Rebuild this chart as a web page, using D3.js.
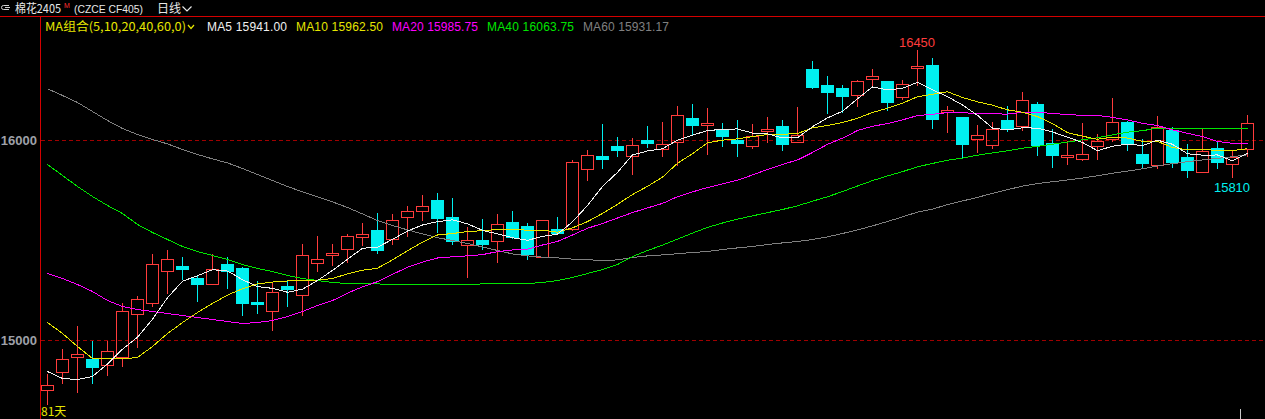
<!DOCTYPE html>
<html><head><meta charset="utf-8">
<script src="https://cdn.jsdelivr.net/npm/d3@7"></script>
<style>
html,body{margin:0;padding:0;background:#000;overflow:hidden}
svg{display:block}
</style></head><body>
<svg id="c" width="1265" height="419"></svg>
<script>
// ---- data ----
const opens  = [14748,14838,14913,14903,14876,14916,15128,15186,15346,15370,
                15310,15281,15380,15358,15190,15143,15270,15226,15386,15426,
                15453,15516,15550,15506,15613,15643,15700,15615,15476,15500,
                15493,15590,15570,15416,15553,15553,15853,15920,15970,15918,
                16000,15956,15988,16110,16073,16056,16000,15968,16043,16070,
                15988,16355,16275,16260,16226,16306,16295,16216,16362,16375,
                16140,16115,16003,15976,16100,16068,16180,15983,15916,15906,
                15971,16003,16090,15930,15875,16050,15915,15841,15958,15878,
                15953];
const highs  = [14830,14955,15068,14993,14995,15183,15220,15430,15450,15413,
                15320,15430,15413,15363,15295,15283,15300,15480,15520,15480,
                15530,15583,15635,15630,15670,15725,15735,15710,15565,15603,
                15630,15645,15583,15598,15615,15900,15950,16080,16015,16010,
                16070,16090,16171,16180,16160,16085,16098,16080,16113,16100,
                16165,16395,16320,16275,16300,16355,16295,16300,16450,16410,
                16170,16115,16075,16091,16168,16240,16190,16055,15996,16083,
                16028,16210,16096,16003,16120,16063,15980,16055,15996,15946,
                16125];
const lows   = [14675,14781,14736,14781,14821,14866,14961,15166,15228,15300,
                15191,15280,15253,15121,15131,15046,15166,15121,15341,15370,
                15383,15470,15431,15476,15516,15595,15535,15476,15311,15451,
                15386,15503,15401,15416,15536,15543,15796,15856,15916,15826,
                15958,15916,15871,16026,15926,15966,15916,15953,15986,15946,
                15988,16256,16131,16136,16163,16271,16146,16200,16271,16056,
                16036,15906,15936,15953,16041,16046,15920,15861,15876,15896,
                15901,15991,15946,15856,15856,15861,15811,15836,15856,15810,
                15913];
const closes = [14773,14903,14928,14866,14943,15143,15203,15378,15403,15355,
                15280,15353,15346,15186,15181,15238,15255,15423,15403,15433,
                15518,15528,15451,15598,15643,15668,15611,15496,15498,15481,
                15578,15516,15431,15598,15536,15888,15923,15906,15950,15973,
                15986,15978,16123,16076,16083,16021,15986,16021,16055,15981,
                16023,16266,16241,16221,16293,16318,16191,16280,16372,16106,
                16148,15981,16023,16053,16061,16198,15975,15926,15923,15928,
                15993,16088,15978,15886,16063,15890,15851,15943,15891,15916,
                16083];

// moving-average values before a full window exists
const ma5Head  = [14845,14810,14805,14820];
const ma10Head = [15090,15035,14970,14910,14908,14908,14915,14970,15035];
const ma20Head = [15335,15310,15280,15245,15200,15170,15155,15145,15135,15125,
                  15115,15105,15095,15085,15090,15100,15120,15145,15175];
const ma40Head = [15880,15825,15770,15720,15675,15635,15580,15540,15505,15470,
                  15445,15425,15405,15380,15360,15345,15325,15310,15300,15290,
                  15285,15285,15283,15280,15280,15280,15280,15280,15280,15283,
                  15283,15285,15285,15290,15300,15315,15335,15355,15380];
const ma60Head = [16259,16225,16190,16145,16100,16060,16030,16005,15983,15955,
                  15930,15908,15888,15860,15830,15800,15770,15743,15718,15693,
                  15665,15633,15600,15575,15553,15533,15514,15500,15485,15468,
                  15450,15433,15423,15417,15413,15407,15404,15400,15403,15415,
                  15423,15428,15434,15440,15445,15455,15463,15470,15480,15488,
                  15495,15505,15518,15535,15553,15573,15595,15618,15642];

const maPeriods = [5,10,20,40,60];
const maLegendValues = [15941.00,15962.50,15985.75,16063.75,15931.17];
const yTickValues = [15000,16000];
// marked extreme labels: candle index of the marked high and marked low
const markHighIndex = 58;
const markLowIndex = 79;
const titleName = "棉花2405";
const titleCode = "(CZCE CF405)";
const periodLabel = "日线";
const maGroupLabel = "MA组合(5,10,20,40,60,0)";
const dayCountLabel = "81天";

// ---- drawing ----
const W = 1265, H = 419;
const N = closes.length;
const svg = d3.select("#c");
svg.append("rect").attr("width",W).attr("height",H).attr("fill","#000");

const upColor = "#ff3c3c", downColor = "#00f0f0";
const maColors = ["#f0f0f0","#e6e600","#ff00ff","#00e600","#808080"];
const heads = [ma5Head,ma10Head,ma20Head,ma40Head,ma60Head];

const x = d3.scalePoint().domain(d3.range(N)).range([47,1247]);
const y = d3.scaleLinear().domain([15000,16000]).range([340,140]);
const col = i => Math.round(x(i));
const py = v => Math.round(y(v));

// frame lines
svg.append("line").attr("x1",0).attr("x2",W).attr("y1",16.5).attr("y2",16.5)
  .attr("stroke","#d40000").attr("stroke-width",1);
svg.append("line").attr("x1",40.5).attr("x2",40.5).attr("y1",17).attr("y2",H)
  .attr("stroke","#d40000").attr("stroke-width",1);

// grid dashed lines + y labels through axis
const yAxis = d3.axisLeft(y).tickValues(yTickValues).tickSize(0).tickPadding(3)
  .tickFormat(d3.format("d"));
const ya = svg.append("g").attr("transform","translate(40,0.5)").call(yAxis);
ya.select(".domain").remove();
ya.selectAll("text").attr("fill","#9ea0a8").attr("font-family","Liberation Sans, Arial, sans-serif")
  .attr("font-size",13).attr("font-weight","bold");
svg.append("g").selectAll("line").data(yTickValues).join("line")
  .attr("x1",41).attr("x2",W)
  .attr("y1",d=>py(d)+0.5).attr("y2",d=>py(d)+0.5)
  .attr("stroke","#a00000").attr("stroke-width",1).attr("stroke-dasharray","4,3");

// moving averages
function ma(period, head){
  return closes.map((c,i)=>{
    if(i < period-1) return head[i];
    return d3.mean(closes.slice(i-period+1,i+1));
  });
}
const maSeries = maPeriods.map((p,k)=>ma(p,heads[k]));

// candles
const g = svg.append("g").attr("shape-rendering","crispEdges");
d3.range(N).forEach(i=>{
  const c = col(i);
  const o = opens[i], cl = closes[i], hi = highs[i], lo = lows[i];
  if(cl >= o){
    const top = py(cl), bot = py(o);
    if(py(hi) < top) g.append("line").attr("x1",c+0.5).attr("x2",c+0.5).attr("y1",py(hi)).attr("y2",top).attr("stroke",upColor);
    if(py(lo) > bot) g.append("line").attr("x1",c+0.5).attr("x2",c+0.5).attr("y1",bot).attr("y2",py(lo)).attr("stroke",upColor);
    g.append("rect").attr("x",c-6+0.5).attr("y",top+0.5).attr("width",12).attr("height",Math.max(1,bot-top))
      .attr("fill","none").attr("stroke",upColor).attr("stroke-width",1);
  } else {
    const top = py(o), bot = py(cl);
    g.append("line").attr("x1",c+0.5).attr("x2",c+0.5).attr("y1",py(hi)).attr("y2",py(lo)).attr("stroke",downColor);
    g.append("rect").attr("x",c-6).attr("y",top).attr("width",13).attr("height",Math.max(2,bot-top+1))
      .attr("fill",downColor);
  }
});

// MA lines (drawn over candles)
const line = d3.line().x((d,i)=>x(i)+0.5).y(d=>y(d)+0.5);
const mg = svg.append("g").attr("shape-rendering","crispEdges");
[4,3,2,1,0].forEach(k=>{
  mg.append("path").attr("d",line(maSeries[k])).attr("fill","none")
    .attr("stroke",maColors[k]).attr("stroke-width",1);
});

// marked high / low labels
svg.append("text").attr("x",x(markHighIndex)).attr("y",py(highs[markHighIndex])-3).attr("text-anchor","middle")
  .attr("fill",upColor).attr("font-family","Liberation Sans, Arial, sans-serif").attr("font-size",13)
  .text(highs[markHighIndex]);
svg.append("text").attr("x",x(markLowIndex)).attr("y",py(lows[markLowIndex])+14).attr("text-anchor","middle")
  .attr("fill",downColor).attr("font-family","Liberation Sans, Arial, sans-serif").attr("font-size",13)
  .text(lows[markLowIndex]);

// header
const hf = "'Noto Sans CJK SC', sans-serif";
const hdr = svg.append("g").attr("fill","#e8e8e8").attr("font-family",hf).attr("font-size",12);
hdr.append("path").attr("d","M9,5.5 H3.5 Q1.5,5.5 1.5,7.5 Q1.5,9.5 3.5,9.5 H9 M5,7.5 H10")
  .attr("fill","none").attr("stroke","#d0d0d0").attr("stroke-width",1);
hdr.append("text").attr("x",15).attr("y",12.5).attr("textLength",46).attr("lengthAdjust","spacingAndGlyphs").text(titleName);
hdr.append("text").attr("x",64).attr("y",8).attr("font-size",7).attr("fill","#ff3030")
  .attr("font-family","Liberation Sans, Arial, sans-serif").text("M");
hdr.append("text").attr("x",74).attr("y",12.5).attr("font-size",11).attr("textLength",69).attr("lengthAdjust","spacingAndGlyphs")
  .attr("font-family","Liberation Sans, Arial, sans-serif").text(titleCode);
hdr.append("text").attr("x",157).attr("y",12.5).text(periodLabel);
hdr.append("path").attr("d","M182.5,6.5 L187,11 L191.5,6.5").attr("fill","none").attr("stroke","#e8e8e8").attr("stroke-width",1.2);

// legend
const lf = "Liberation Sans, Arial, sans-serif";
const leg = svg.append("g").attr("font-family",lf).attr("font-size",12);
leg.append("text").attr("x",45).attr("y",31).attr("fill","#e6e600").attr("textLength",141)
  .attr("lengthAdjust","spacingAndGlyphs").attr("font-family","'Noto Sans CJK SC', sans-serif").text(maGroupLabel);
leg.append("path").attr("d","M188,25 L191,28.5 L194,25").attr("fill","none").attr("stroke","#e6e600").attr("stroke-width",1.2);
const legX = [207,296,392,487,583];
const legW = [80,87,86,87,86];
maPeriods.forEach((p,k)=>{
  leg.append("text").attr("x",legX[k]).attr("y",31).attr("fill",maColors[k])
    .attr("textLength",legW[k]).attr("lengthAdjust","spacing")
    .text("MA"+p+" "+maLegendValues[k].toFixed(2));
});

// day count
svg.append("text").attr("x",41).attr("y",416).attr("fill","#e6e600").attr("font-family",hf)
  .attr("font-size",12).text(dayCountLabel);
// small cursor mark bottom right
svg.append("line").attr("x1",1240.5).attr("x2",1240.5).attr("y1",409).attr("y2",H)
  .attr("stroke","#c8c8c8").attr("stroke-width",1);
</script>
</body></html>
